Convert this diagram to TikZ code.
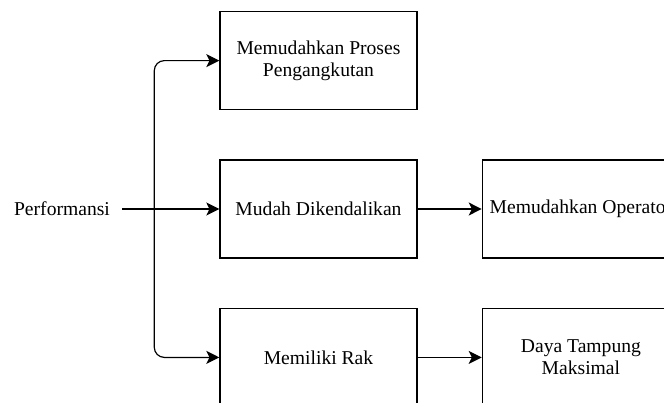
\documentclass[tikz,border=0pt]{standalone}
\usepackage{fontspec}
\setmainfont{Liberation Serif}
\usetikzlibrary{arrows.meta,positioning}

\begin{document}
\begin{tikzpicture}[
  node distance=24.5pt and 32pt,
  font=\fontsize{9.8}{11.2}\selectfont,
  box/.style={
    draw, line width=0.7pt, minimum width=98.5pt, minimum height=49pt,
    align=center, inner sep=2pt
  },
  arrow/.style={-{Stealth[length=6.5pt, width=6.5pt, inset=1.6pt]}, line width=0.6pt}
]
  \clip (-159.25pt,-96.5pt) rectangle (172.75pt,104.5pt);
  \node[box] (kendali) {Mudah Dikendalikan};
  \node[box, above=of kendali] (proses) {Memudahkan Proses\\Pengangkutan};
  \node[box, below=of kendali] (rak) {Memiliki Rak};
  \node[box, right=of kendali] (operator) {Memudahkan Operator};
  \node[box, right=of rak] (daya) {Daya Tampung\\Maksimal};
  \node[inner xsep=6pt, left=48.5pt of kendali] (performansi) {Performansi};
  \coordinate[left=32.5pt of kendali.west] (cabang);
  \draw[arrow] (performansi) -- (kendali);
  \draw[arrow, rounded corners=5pt] (cabang) |- (proses);
  \draw[arrow, rounded corners=5pt] (cabang) |- (rak);
  \draw[arrow] (kendali) -- (operator);
  \draw[arrow] (rak) -- (daya);
\end{tikzpicture}
\end{document}
